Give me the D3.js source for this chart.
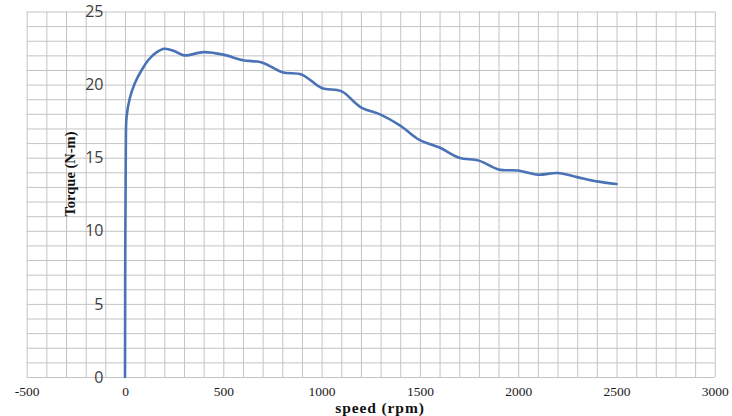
<!DOCTYPE html>
<html>
<head>
<meta charset="utf-8">
<script src="https://cdn.jsdelivr.net/npm/d3@7"></script>
<style>
  html, body { margin: 0; padding: 0; background: #ffffff; }
  svg { display: block; }
</style>
</head>
<body>
<div id="chart"></div>
<script>
// ---- data ----
const speed = [0, 4, 8, 25, 50, 85, 120, 160, 200, 250, 300, 400, 500, 600, 700, 800, 900,
  1000, 1100, 1200, 1300, 1400, 1500, 1600, 1700, 1800, 1900, 2000, 2100, 2200, 2300, 2400, 2500];
const torque = [0, 15.5, 17.8, 19.1, 20.1, 21.0, 21.7, 22.2, 22.45, 22.3, 22.0, 22.22, 22.05, 21.67, 21.5, 20.84, 20.68,
  19.77, 19.55, 18.45, 17.95, 17.2, 16.2, 15.7, 15.0, 14.8, 14.2, 14.12, 13.84, 13.95, 13.67, 13.38, 13.2];
const xTicks = [-500, 0, 500, 1000, 1500, 2000, 2500, 3000];
const yTicks = [0, 5, 10, 15, 20, 25];
const xGridStep = 100;
const yGridStep = 1;
const xTitle = "speed (rpm)";
const yTitle = "Torque (N-m)";

const W = 732, H = 416;
const svg = d3.select("#chart").append("svg").attr("width", W).attr("height", H);

const x = d3.scaleLinear().domain([-500, 3000]).range([26.7, 714.8]);
const y = d3.scaleLinear().domain([0, 25]).range([377, 11.5]);
const plotH = y(0) - y(25);
const plotW = x(3000) - x(-500);

// grid
const xGridVals = d3.range(-500, 3000 + 1, xGridStep);
const yGridVals = d3.range(0, 25 + 0.001, yGridStep);

const gx = svg.append("g").attr("class", "xgrid")
  .attr("transform", `translate(0,${y(0)})`)
  .call(d3.axisBottom(x).tickValues(xGridVals).tickSize(-plotH).tickFormat(""));
gx.select(".domain").remove();
gx.selectAll("line").attr("stroke", "#c4c4c4").attr("stroke-width", 1);

const gy = svg.append("g").attr("class", "ygrid")
  .attr("transform", `translate(${x(-500)},0)`)
  .call(d3.axisLeft(y).tickValues(yGridVals).tickSize(-plotW).tickFormat(""));
gy.select(".domain").remove();
gy.selectAll("line").attr("stroke", "#c4c4c4").attr("stroke-width", 1);

// x tick labels
const ax = svg.append("g")
  .attr("transform", `translate(0,${y(0)})`)
  .call(d3.axisBottom(x).tickValues(xTicks).tickSize(0).tickFormat(d => String(d)));
ax.select(".domain").remove();
ax.selectAll("text")
  .attr("y", 18.5).attr("dy", 0)
  .attr("font-family", "'Liberation Serif', 'Times New Roman', serif")
  .attr("font-size", "13.5px")
  .attr("fill", "#1a1a1a");

// y tick labels (axis sits at speed = 0)
const ay = svg.append("g")
  .attr("transform", `translate(${x(0)},0)`)
  .call(d3.axisLeft(y).tickValues(yTicks).tickSize(0).tickPadding(21.5));
ay.select(".domain").remove();
ay.selectAll("text")
  .attr("font-family", "'Open Sans', 'DejaVu Sans', sans-serif")
  .attr("font-size", "16px")
  .attr("fill", "#404040");

// curve
const line = d3.line()
  .x((d, i) => x(speed[i]))
  .y((d, i) => y(torque[i]))
  .curve(d3.curveCatmullRom.alpha(0.5));

svg.append("path")
  .datum(speed)
  .attr("d", line)
  .attr("fill", "none")
  .attr("stroke", "#4a72b6")
  .attr("stroke-width", 2.6)
  .attr("stroke-linejoin", "round")
  .attr("stroke-linecap", "round");

// axis titles
svg.append("text")
  .attr("x", 380).attr("y", 413)
  .attr("text-anchor", "middle")
  .attr("font-family", "'Liberation Serif', 'Times New Roman', serif")
  .attr("font-weight", "bold")
  .attr("font-size", "15.5px")
  .attr("letter-spacing", "0.9px")
  .attr("fill", "#111")
  .text(xTitle);

svg.append("text")
  .attr("transform", "translate(75,174) rotate(-90)")
  .attr("text-anchor", "middle")
  .attr("font-family", "'Liberation Serif', 'Times New Roman', serif")
  .attr("font-weight", "bold")
  .attr("font-size", "14.5px")
  .attr("fill", "#111")
  .text(yTitle);
</script>
</body>
</html>
